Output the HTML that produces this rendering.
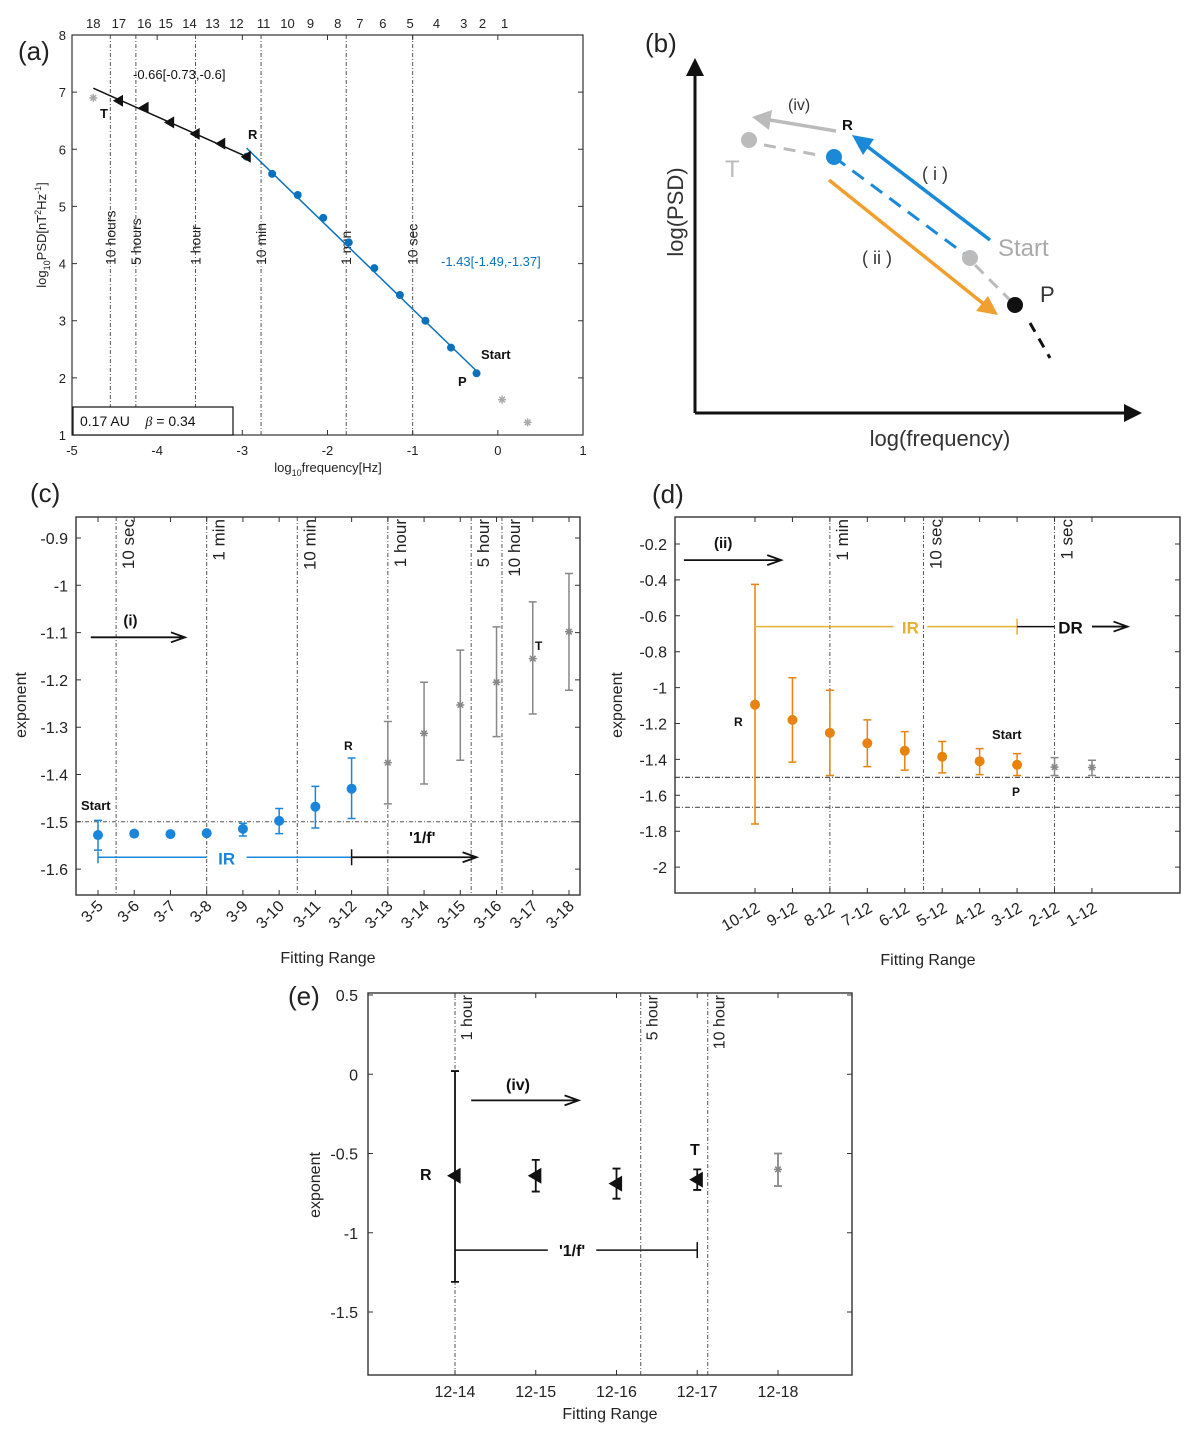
<!DOCTYPE html>
<html><head><meta charset="utf-8"><title>PSD fitting figure</title>
<style>
html,body{margin:0;padding:0;background:#fff}
svg{display:block;font-family:"Liberation Sans",sans-serif}
</style></head>
<body>
<svg id="fig" width="1200" height="1429" viewBox="0 0 1200 1429">
<rect width="1200" height="1429" fill="#fff"/>
<g>
<text x="645" y="52" font-size="26" fill="#222">(b)</text>
<line x1="695" y1="413" x2="695" y2="72" stroke="#111" stroke-width="3"/>
<polygon points="695,58 686,76 704,76" fill="#111"/>
<line x1="695" y1="413" x2="1128" y2="413" stroke="#111" stroke-width="3"/>
<polygon points="1142,413 1124,404 1124,422" fill="#111"/>
<text x="940" y="446" font-size="22" text-anchor="middle" fill="#333">log(frequency)</text>
<text transform="translate(683,212) rotate(-90)" font-size="22" text-anchor="middle" fill="#333">log(PSD)</text>
<line x1="764" y1="145" x2="818" y2="155" stroke="#bbb" stroke-width="3" stroke-dasharray="12,8"/>
<line x1="834" y1="157" x2="970" y2="258" stroke="#1a8ad8" stroke-width="3" stroke-dasharray="14,9"/>
<line x1="975" y1="265" x2="1015" y2="305" stroke="#bbb" stroke-width="3" stroke-dasharray="12,8"/>
<line x1="1030" y1="323" x2="1050" y2="358" stroke="#111" stroke-width="3" stroke-dasharray="10,8"/>
<line x1="836" y1="131" x2="770" y2="120" stroke="#bbb" stroke-width="3.5"/>
<polygon points="752,117 772,110 769,130" fill="#bbb"/>
<line x1="990" y1="240" x2="868" y2="147" stroke="#1a8ad8" stroke-width="3.5"/>
<polygon points="852,135 874,139 863,155" fill="#1a8ad8"/>
<line x1="829" y1="180" x2="985" y2="305" stroke="#f0a030" stroke-width="3.5"/>
<polygon points="998,315 976,311 988,296" fill="#f0a030"/>
<circle cx="749" cy="140" r="8" fill="#bbb"/>
<circle cx="834" cy="157" r="8" fill="#1a8ad8"/>
<circle cx="970" cy="258" r="8" fill="#bbb"/>
<circle cx="1015" cy="305" r="8" fill="#111"/>
<text x="725" y="177" font-size="24" fill="#bbb">T</text>
<text x="842" y="130" font-size="15" font-weight="bold" fill="#111">R</text>
<text x="998" y="256" font-size="24" fill="#aaa">Start</text>
<text x="1040" y="302" font-size="22" fill="#333">P</text>
<text x="788" y="110" font-size="16" fill="#333">(iv)</text>
<text x="922" y="180" font-size="18" fill="#333">( i )</text>
<text x="862" y="264" font-size="18" fill="#333">( ii )</text>
</g>
</svg>
<script>
// ---------- Panel (a) data ----------
const aXTicks=[-5,-4,-3,-2,-1,0,1];
const aYTicks=[1,2,3,4,5,6,7,8];
const aBlueX=[-2.95,-2.65,-2.35,-2.05,-1.75,-1.45,-1.15,-0.85,-0.55,-0.25];
const aBlueY=[5.87,5.57,5.2,4.8,4.37,3.92,3.45,3.0,2.53,2.08];
const aBlackX=[-2.95,-3.25,-3.55,-3.85,-4.15,-4.45];
const aBlackY=[5.87,6.1,6.27,6.47,6.73,6.85];
const aGrayX=[-4.75,0.05,0.35];
const aGrayY=[6.9,1.62,1.22];
const aFitBlackX=[-4.75,-2.95];
const aFitBlackY=[7.07,5.87];
const aFitBlueX=[-2.95,-0.25];
const aFitBlueY=[6.02,2.12];
const aTopLabels=['18','17','16','15','14','13','12','11','10','9','8','7','6','5','4','3','2','1'];
const aTopPos=[-4.75,-4.45,-4.15,-3.9,-3.62,-3.35,-3.07,-2.75,-2.47,-2.2,-1.88,-1.62,-1.35,-1.03,-0.72,-0.4,-0.18,0.08];
const aVLinePos=[-4.55,-4.25,-3.55,-2.78,-1.78,-1.0];
const aVLineLabels=['10 hours','5 hours','1 hour','10 min','1 min','10 sec'];

// ---------- Panel (c) data ----------
const cLabels=['3-5','3-6','3-7','3-8','3-9','3-10','3-11','3-12','3-13','3-14','3-15','3-16','3-17','3-18'];
const cVal=[-1.528,-1.525,-1.526,-1.524,-1.515,-1.498,-1.468,-1.43,-1.375,-1.313,-1.253,-1.205,-1.155,-1.098];
const cLo=[-1.56,-1.53,-1.53,-1.528,-1.53,-1.525,-1.513,-1.493,-1.462,-1.42,-1.37,-1.32,-1.272,-1.222];
const cHi=[-1.497,-1.52,-1.522,-1.52,-1.503,-1.472,-1.425,-1.365,-1.288,-1.205,-1.137,-1.088,-1.035,-0.975];
const cBlueCount=8;
const cYTicks=[-0.9,-1,-1.1,-1.2,-1.3,-1.4,-1.5,-1.6];
const cVLinePos=[0.5,3,5.5,8,10.3,11.15];
const cVLineLabels=['10 sec','1 min','10 min','1 hour','5 hour','10 hour'];

// ---------- Panel (d) data ----------
const dLabels=['10-12','9-12','8-12','7-12','6-12','5-12','4-12','3-12','2-12','1-12'];
const dVal=[-1.095,-1.18,-1.252,-1.31,-1.352,-1.385,-1.41,-1.43,-1.443,-1.445];
const dLo=[-1.76,-1.415,-1.49,-1.44,-1.46,-1.475,-1.485,-1.49,-1.49,-1.49];
const dHi=[-0.425,-0.945,-1.015,-1.18,-1.245,-1.3,-1.34,-1.368,-1.39,-1.405];
const dOrangeCount=8;
const dYTicks=[-0.2,-0.4,-0.6,-0.8,-1,-1.2,-1.4,-1.6,-1.8,-2];
const dVLinePos=[2,4.5,8];
const dVLineLabels=['1 min','10 sec','1 sec'];
const dHLines=[-1.5,-1.667];

// ---------- Panel (e) data ----------
const eLabels=['12-14','12-15','12-16','12-17','12-18'];
const eVal=[-0.64,-0.64,-0.69,-0.665,-0.6];
const eLo=[-1.31,-0.74,-0.785,-0.73,-0.705];
const eHi=[0.02,-0.54,-0.595,-0.6,-0.5];
const eBlackCount=4;
const eYTicks=[0.5,0,-0.5,-1,-1.5];
const eVLinePos=[0,2.3,3.13];
const eVLineLabels=['1 hour','5 hour','10 hour'];

const NS='http://www.w3.org/2000/svg';
const svg=document.getElementById('fig');
function mk(tag,attrs,parent){const e=document.createElementNS(NS,tag);for(const k in attrs)e.setAttribute(k,attrs[k]);(parent||svg).appendChild(e);return e;}
function txt(str,attrs,parent){const t=mk('text',attrs,parent);t.textContent=str;return t;}
function fmt(v){return String(v);}

function circleMark(g,x,y,col,r){return mk('circle',{cx:x,cy:y,r:r||5,fill:col},g);}
function triMark(g,x,y,col,s){s=s||6;return mk('polygon',{points:(x-s)+','+y+' '+(x+s*0.7)+','+(y-s)+' '+(x+s*0.7)+','+(y+s),fill:col},g);}
function starMark(g,x,y,col){const s=4;return mk('path',{d:'M'+(x-s)+' '+y+'H'+(x+s)+'M'+x+' '+(y-s)+'V'+(y+s)+'M'+(x-s*0.7)+' '+(y-s*0.7)+'L'+(x+s*0.7)+' '+(y+s*0.7)+'M'+(x-s*0.7)+' '+(y+s*0.7)+'L'+(x+s*0.7)+' '+(y-s*0.7),stroke:col,'stroke-width':1.5,fill:'none'},g);}
function errBar(g,x,y1,y2,col,w){return mk('path',{d:'M'+x+' '+y1+'V'+y2+'M'+(x-4)+' '+y1+'H'+(x+4)+'M'+(x-4)+' '+y2+'H'+(x+4),stroke:col,'stroke-width':w||1.5,fill:'none'},g);}
function arrow(g,x1,x2,y,col){return mk('path',{d:'M'+x1+' '+y+'H'+x2+'M'+(x2-14)+' '+(y-5)+'L'+x2+' '+y+'L'+(x2-14)+' '+(y+5),stroke:col,'stroke-width':1.8,fill:'none'},g);}

// ================= PANEL A =================
(function(){
const L=72,R=583,T=35,B=435;
const ax=v=>L+(v+5)*(R-L)/6;
const ay=v=>B-(v-1)*(B-T)/7;
const g=mk('g',{});


const lab=txt('(a)',{x:18,y:60,'font-size':26,fill:'#222'},g);


aVLinePos.forEach((p,i)=>{
  const ln=mk('line',{x1:ax(p),x2:ax(p),y1:T,y2:B,stroke:'#555','stroke-width':1,'stroke-dasharray':'4,2,1,2'},g);
  
  
  const t=txt(aVLineLabels[i],{transform:'translate('+(ax(p)+5)+',265) rotate(-90)','font-size':14,fill:'#222'},g);
  
  
});
const fr=mk('rect',{x:L,y:T,width:R-L,height:B-T,fill:'none',stroke:'#333','stroke-width':1.2},g);


aXTicks.forEach(v=>{
  const tk=mk('path',{d:'M'+ax(v)+' '+B+'V'+(B-5)+'M'+ax(v)+' '+T+'V'+(T+5),stroke:'#333','stroke-width':1},g);
  
  
  const t=txt(fmt(v),{x:ax(v),y:B+20,'font-size':13,'text-anchor':'middle',fill:'#222'},g);
  
  
});
aYTicks.forEach(v=>{
  const tk=mk('path',{d:'M'+L+' '+ay(v)+'H'+(L+5)+'M'+R+' '+ay(v)+'H'+(R-5),stroke:'#333','stroke-width':1},g);
  
  
  const t=txt(fmt(v),{x:L-6,y:ay(v)+5,'font-size':13,'text-anchor':'end',fill:'#222'},g);
  
  
});
aTopLabels.forEach((s,i)=>{
  const t=txt(s,{x:ax(aTopPos[i]),y:28,'font-size':13,'text-anchor':'middle',fill:'#222'},g);
  
  
});
const xt=mk('text',{x:328,y:472,'font-size':13,'text-anchor':'middle',fill:'#222'},g);
xt.innerHTML='log<tspan font-size="9" dy="4">10</tspan><tspan dy="-4">frequency[Hz]</tspan>';


const yt=mk('text',{transform:'translate(46,235) rotate(-90)','font-size':13,'text-anchor':'middle',fill:'#222'},g);
yt.innerHTML='log<tspan font-size="9" dy="4">10</tspan><tspan dy="-4">PSD[nT</tspan><tspan font-size="9" dy="-5">2</tspan><tspan dy="5">Hz</tspan><tspan font-size="9" dy="-5">-1</tspan><tspan dy="5">]</tspan>';


const fb=mk('line',{x1:ax(aFitBlackX[0]),y1:ay(aFitBlackY[0]),x2:ax(aFitBlackX[1]),y2:ay(aFitBlackY[1]),stroke:'#111','stroke-width':1.5},g);


const fbl=mk('line',{x1:ax(aFitBlueX[0]),y1:ay(aFitBlueY[0]),x2:ax(aFitBlueX[1]),y2:ay(aFitBlueY[1]),stroke:'#0a72bd','stroke-width':1.5},g);


aBlueX.forEach((x,i)=>{
  const m=circleMark(g,ax(x),ay(aBlueY[i]),'#0a72bd',4);
  
  
});
aBlackX.forEach((x,i)=>{
  const m=triMark(g,ax(x),ay(aBlackY[i]),'#111');
  
  
});
aGrayX.forEach((x,i)=>{
  const m=starMark(g,ax(x),ay(aGrayY[i]),'#aaa');
  
  
});
const notes=[['-0.66[-0.73,-0.6]',133,79,'#111','normal',13,'a-black-fit-annotation'],['-1.43[-1.49,-1.37]',441,266,'#0a72bd','normal',13,'a-blue-fit-annotation'],['T',100,118,'#111','bold',13,'a-label-t'],['R',248,139,'#111','bold',13,'a-label-r'],['Start',481,359,'#111','bold',13,'a-label-start'],['P',458,386,'#111','bold',13,'a-label-p']];
notes.forEach(n=>{
  const t=txt(n[0],{x:n[1],y:n[2],fill:n[3],'font-weight':n[4],'font-size':n[5]},g);
  
  
});
const box=mk('rect',{x:73,y:407,width:160,height:28,fill:'#fff',stroke:'#111','stroke-width':1.2},g);


const bt=mk('text',{x:80,y:426,'font-size':14,fill:'#111'},g);
bt.innerHTML='0.17 AU&#160;&#160;&#160;&#160;<tspan font-style="italic" font-family="Liberation Serif">β</tspan> = 0.34';


})();

// ================= PANEL C =================
(function(){
const L=76,R=580,T=517,B=895;
const cx=i=>98+i*36.23;
const cy=v=>538+(-0.9-v)*473;
const g=mk('g',{});


const lab=txt('(c)',{x:30,y:502,'font-size':26,fill:'#222'},g);


const clip=mk('clipPath',{id:'clipc'},g);
mk('rect',{x:L,y:T,width:R-L,height:B-T},clip);
const lg=mk('g',{'clip-path':'url(#clipc)'},g);


cVLinePos.forEach((p,i)=>{
  const ln=mk('line',{x1:cx(p),x2:cx(p),y1:T,y2:B,stroke:'#555','stroke-width':1,'stroke-dasharray':'4,2,1,2'},g);
  
  
  const t=txt(cVLineLabels[i],{transform:'translate('+(cx(p)+18)+','+(T+2)+') rotate(-90)','font-size':17,'text-anchor':'end',fill:'#222'},lg);
  
  
});
const hl=mk('line',{x1:L,x2:R,y1:cy(-1.5),y2:cy(-1.5),stroke:'#555','stroke-width':1,'stroke-dasharray':'4,2,1,2'},g);


const fr=mk('rect',{x:L,y:T,width:R-L,height:B-T,fill:'none',stroke:'#333','stroke-width':1.4},g);


cYTicks.forEach(v=>{
  const tk=mk('path',{d:'M'+L+' '+cy(v)+'H'+(L+5)+'M'+R+' '+cy(v)+'H'+(R-5),stroke:'#333'},g);
  
  
  const t=txt(fmt(v),{x:L-8,y:cy(v)+6,'font-size':16,'text-anchor':'end',fill:'#222'},g);
  
  
});
cLabels.forEach((s,i)=>{
  const tk=mk('path',{d:'M'+cx(i)+' '+B+'V'+(B-5)+'M'+cx(i)+' '+T+'V'+(T+5),stroke:'#333'},g);
  
  
  const t=txt(s,{transform:'translate('+(cx(i)+6)+','+(B+12)+') rotate(-45)','font-size':16,'text-anchor':'end',fill:'#222'},g);
  
  
});
const xt=txt('Fitting Range',{x:328,y:963,'font-size':16,'text-anchor':'middle',fill:'#222'},g);


const yt=txt('exponent',{transform:'translate(26,705) rotate(-90)','font-size':16,'text-anchor':'middle',fill:'#222'},g);


cLabels.forEach((s,i)=>{
  const blue=i<cBlueCount, col=blue?'#1a86db':'#888';
  const eb=errBar(g,cx(i),cy(cLo[i]),cy(cHi[i]),col,1.5);
  
  
  const m=blue?circleMark(g,cx(i),cy(cVal[i]),col,5):starMark(g,cx(i),cy(cVal[i]),col);
  
  
});
const ir=mk('path',{d:'M'+cx(0)+' '+cy(-1.575)+'H'+cx(3)+'M'+cx(4.1)+' '+cy(-1.575)+'H'+cx(7)+'M'+cx(0)+' '+(cy(-1.575)-6)+'V'+(cy(-1.575)+6),stroke:'#1a86db','stroke-width':1.5,fill:'none'},g);


const irt=txt('IR',{x:cx(3.55),y:cy(-1.575)+7,'font-size':17,'font-weight':'bold','text-anchor':'middle',fill:'#1a86db'},g);


const fa=arrow(g,cx(7),cx(10.45),cy(-1.575),'#111');


const ftk=mk('line',{x1:cx(7),x2:cx(7),y1:cy(-1.575)-8,y2:cy(-1.575)+8,stroke:'#111','stroke-width':1.5},g);


const ft=txt("'1/f'",{x:cx(8.95),y:cy(-1.545),'font-size':16,'font-weight':'bold','text-anchor':'middle',fill:'#111'},g);


const ia=arrow(g,cx(-0.2),cx(2.4),cy(-1.11),'#111');


const notes=[['(i)',cx(0.7),cy(-1.085),15,'c-label-i'],['Start',81,810,13,'c-label-start'],['R',344,750,12,'c-label-r'],['T',535,650,12,'c-label-t']];
notes.forEach(n=>{
  const t=txt(n[0],{x:n[1],y:n[2],'font-size':n[3],'font-weight':'bold',fill:'#111'},g);
  
  
});
})();

// ================= PANEL D =================
(function(){
const L=675,R=1180,T=517,B=893;
const dx=i=>755+i*37.44;
const dy=v=>544+(-0.2-v)*179.5;
const g=mk('g',{});


const lab=txt('(d)',{x:652,y:503,'font-size':26,fill:'#222'},g);


const clip=mk('clipPath',{id:'clipd'},g);
mk('rect',{x:L,y:T,width:R-L,height:B-T},clip);
const lg=mk('g',{'clip-path':'url(#clipd)'},g);


dVLinePos.forEach((p,i)=>{
  const ln=mk('line',{x1:dx(p),x2:dx(p),y1:T,y2:B,stroke:'#555','stroke-width':1,'stroke-dasharray':'4,2,1,2'},g);
  
  
  const t=txt(dVLineLabels[i],{transform:'translate('+(dx(p)+18)+','+(T+2)+') rotate(-90)','font-size':17,'text-anchor':'end',fill:'#222'},lg);
  
  
});
dHLines.forEach(v=>{
  const hl=mk('line',{x1:L,x2:R,y1:dy(v),y2:dy(v),stroke:'#555','stroke-width':1.2,'stroke-dasharray':'5,2,1,2'},g);
  
  
});
const fr=mk('rect',{x:L,y:T,width:R-L,height:B-T,fill:'none',stroke:'#333','stroke-width':1.4},g);


dYTicks.forEach(v=>{
  const tk=mk('path',{d:'M'+L+' '+dy(v)+'H'+(L+5)+'M'+R+' '+dy(v)+'H'+(R-5),stroke:'#333'},g);
  
  
  const t=txt(fmt(v),{x:L-8,y:dy(v)+6,'font-size':16,'text-anchor':'end',fill:'#222'},g);
  
  
});
dLabels.forEach((s,i)=>{
  const tk=mk('path',{d:'M'+dx(i)+' '+B+'V'+(B-5)+'M'+dx(i)+' '+T+'V'+(T+5),stroke:'#333'},g);
  
  
  const t=txt(s,{transform:'translate('+(dx(i)+6)+','+(B+18)+') rotate(-30)','font-size':16,'text-anchor':'end',fill:'#222'},g);
  
  
});
const xt=txt('Fitting Range',{x:928,y:965,'font-size':16,'text-anchor':'middle',fill:'#222'},g);


const yt=txt('exponent',{transform:'translate(622,705) rotate(-90)','font-size':16,'text-anchor':'middle',fill:'#222'},g);


dLabels.forEach((s,i)=>{
  const or=i<dOrangeCount, col=or?'#e8830f':'#888';
  const eb=errBar(g,dx(i),dy(dLo[i]),dy(dHi[i]),col,1.5);
  
  
  const m=or?circleMark(g,dx(i),dy(dVal[i]),col,5):starMark(g,dx(i),dy(dVal[i]),col);
  
  
});
const iry=dy(-0.66);
const ir=mk('path',{d:'M'+dx(0)+' '+iry+'H'+dx(3.7)+'M'+dx(4.6)+' '+iry+'H'+dx(7)+'M'+dx(7)+' '+(iry-8)+'V'+(iry+8),stroke:'#e6b030','stroke-width':1.5,fill:'none'},g);


const irt=txt('IR',{x:dx(4.15),y:iry+7,'font-size':17,'font-weight':'bold','text-anchor':'middle',fill:'#e6b030'},g);


const dl=mk('line',{x1:dx(7),x2:dx(8),y1:iry,y2:iry,stroke:'#111','stroke-width':1.5},g);


const drt=txt('DR',{x:dx(8.1),y:iry+7,'font-size':17,'font-weight':'bold',fill:'#111'},g);


const da=arrow(g,dx(9.0),dx(9.95),iry,'#111');


const ia=arrow(g,dx(-1.9),dx(0.7),dy(-0.29),'#111');


const notes=[['(ii)',714,548,15,'d-label-ii'],['R',734,726,12,'d-label-r'],['Start',992,739,13,'d-label-start'],['P',1012,796,12,'d-label-p']];
notes.forEach(n=>{
  const t=txt(n[0],{x:n[1],y:n[2],'font-size':n[3],'font-weight':'bold',fill:'#111'},g);
  
  
});
})();

// ================= PANEL E =================
(function(){
const L=368,R=852,T=993,B=1375;
const ex=i=>455+i*80.75;
const ey=v=>995+(0.5-v)*158.5;
const g=mk('g',{});


const lab=txt('(e)',{x:288,y:1005,'font-size':26,fill:'#222'},g);


const clip=mk('clipPath',{id:'clipe'},g);
mk('rect',{x:L,y:T,width:R-L,height:B-T},clip);
const lg=mk('g',{'clip-path':'url(#clipe)'},g);


eVLinePos.forEach((p,i)=>{
  const ln=mk('line',{x1:ex(p),x2:ex(p),y1:T,y2:B,stroke:'#555','stroke-width':1,'stroke-dasharray':'4,2,1,2'},g);
  
  
  const t=txt(eVLineLabels[i],{transform:'translate('+(ex(p)+17)+','+(T+2)+') rotate(-90)','font-size':16,'text-anchor':'end',fill:'#222'},lg);
  
  
});
const fr=mk('rect',{x:L,y:T,width:R-L,height:B-T,fill:'none',stroke:'#333','stroke-width':1.4},g);


eYTicks.forEach(v=>{
  const tk=mk('path',{d:'M'+L+' '+ey(v)+'H'+(L+5)+'M'+R+' '+ey(v)+'H'+(R-5),stroke:'#333'},g);
  
  
  const t=txt(fmt(v),{x:L-10,y:ey(v)+6,'font-size':16,'text-anchor':'end',fill:'#222'},g);
  
  
});
eLabels.forEach((s,i)=>{
  const tk=mk('path',{d:'M'+ex(i)+' '+B+'V'+(B-5)+'M'+ex(i)+' '+T+'V'+(T+5),stroke:'#333'},g);
  
  
  const t=txt(s,{x:ex(i),y:B+22,'font-size':16,'text-anchor':'middle',fill:'#222'},g);
  
  
});
const xt=txt('Fitting Range',{x:610,y:1419,'font-size':16,'text-anchor':'middle',fill:'#222'},g);


const yt=txt('exponent',{transform:'translate(320,1185) rotate(-90)','font-size':16,'text-anchor':'middle',fill:'#222'},g);


eLabels.forEach((s,i)=>{
  const bl=i<eBlackCount, col=bl?'#111':'#888';
  const eb=errBar(g,ex(i),ey(eLo[i]),ey(eHi[i]),col,1.8);
  
  
  const m=bl?triMark(g,ex(i),ey(eVal[i]),col,8):starMark(g,ex(i),ey(eVal[i]),col);
  
  
});
const fy=ey(-1.11);
const fl=mk('path',{d:'M'+ex(0)+' '+fy+'H'+ex(1.15)+'M'+ex(1.75)+' '+fy+'H'+ex(3)+'M'+ex(3)+' '+(fy-8)+'V'+(fy+8),stroke:'#111','stroke-width':1.5,fill:'none'},g);


const ft=txt("'1/f'",{x:ex(1.45),y:fy+6,'font-size':16,'font-weight':'bold','text-anchor':'middle',fill:'#111'},g);


const ia=arrow(g,ex(0.2),ex(1.53),ey(-0.165),'#111');


const notes=[['(iv)',506,1090,16,'e-label-iv'],['R',420,1180,16,'e-label-r'],['T',690,1155,16,'e-label-t']];
notes.forEach(n=>{
  const t=txt(n[0],{x:n[1],y:n[2],'font-size':n[3],'font-weight':'bold',fill:'#111'},g);
  
  
});
})();
</script>
</body></html>
